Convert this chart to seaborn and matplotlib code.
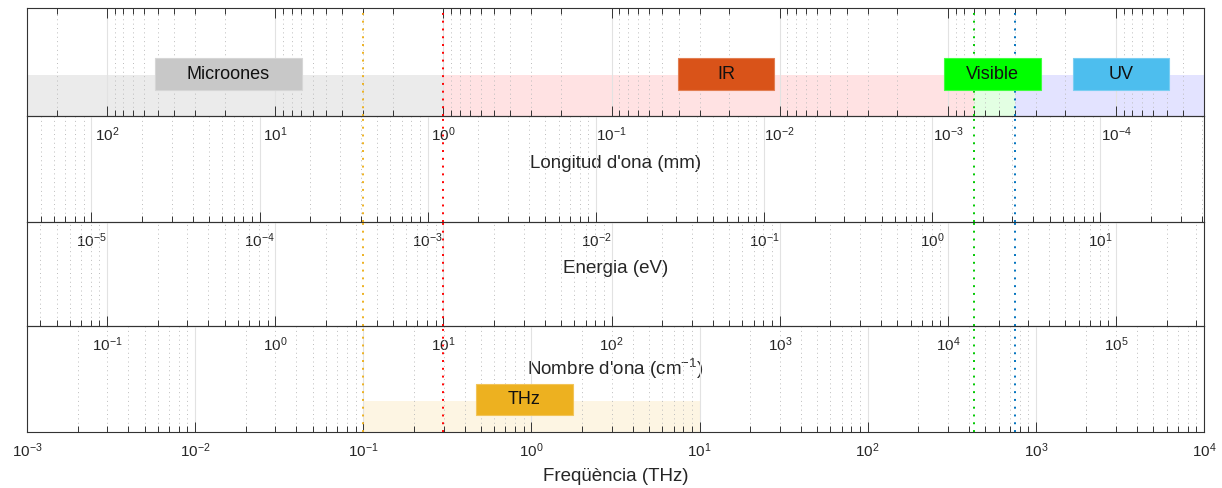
import numpy as np
import matplotlib
matplotlib.use("Agg")
import matplotlib.pyplot as plt
import seaborn as sns

sns.set_theme(style="white")
plt.rcParams['font.family'] = ['Liberation Sans', 'DejaVu Sans']
plt.rcParams['mathtext.default'] = 'regular'

# ---------------- data ----------------
F_MIN, F_MAX = 1e-3, 1e4          # frequency range (THz)
C_MM_THZ = 0.299792458            # f[THz] = C / lambda[mm]
EV_THZ = 241.799                  # f[THz] = E[eV] * EV_THZ
CM_THZ = 0.0299792458             # f[THz] = k[cm^-1] * CM_THZ

band_names = ["Microones", "IR", "Visible", "UV"]
band_start_thz = [1e-3, 0.2998, 428.3, 749.5]
band_end_thz = [0.2998, 428.3, 749.5, 1e4]
band_fill = ["#ebebeb", "#ffe2e3", "#e3ffe3", "#e3e3ff"]
band_box_color = ["#c8c8c8", "#d95319", "#00ff00", "#4dbeee"]
band_label_thz = [0.0158, 14.4, 554.0, 3220.0]

thz_name = "THz"
thz_start, thz_end = 0.1, 10.0
thz_fill = "#fdf5e3"
thz_box_color = "#edb120"
thz_label_thz = 0.91

marker_thz = [0.1, 0.2998, 428.3, 749.5]
marker_colors = ["#edb120", "#ff0000", "#00c800", "#0072bd"]

row_labels = ["Longitud d'ona (mm)", "Energia (eV)",
              "Nombre d'ona (cm$^{-1}$)", "Freqüència (THz)"]
row_to_thz = [lambda v: C_MM_THZ / v,
              lambda v: v * EV_THZ,
              lambda v: v * CM_THZ,
              lambda v: v]

# ---------------- layout ----------------
W, H = 1222, 488
X0, X1 = 27, 1204
rows_px = [(8, 116), (116, 222), (222, 326), (326, 432)]
label_pads = [7.6, 6.9, 1.8, 5.4]
px_per_dec = (X1 - X0) / np.log10(F_MAX / F_MIN)

fig = plt.figure(figsize=(W / 100, H / 100), dpi=100)
fig.patch.set_facecolor("white")

TXT = "#262626"
axes = []
for i, (t, b) in enumerate(rows_px):
    ax = fig.add_axes([X0 / W, 1 - b / H, (X1 - X0) / W, (b - t) / H])
    ax.set_xscale('log')
    ax.set_xlim(F_MIN, F_MAX)
    ax.set_ylim(0, 1)
    ax.patch.set_alpha(0)
    ax.set_axisbelow('line')
    conv = row_to_thz[i]
    majors, labels, minors = [], [], []
    for n in range(-10, 11):
        f = conv(10.0 ** n)
        if F_MIN * 0.999 <= f <= F_MAX * 1.001:
            majors.append(f)
            labels.append(r"$\mathdefault{10^{%d}}$" % n)
        for m in range(2, 10):
            fm = conv(m * 10.0 ** n)
            if F_MIN < fm < F_MAX:
                minors.append(fm)
    ax.set_xticks(majors)
    ax.set_xticklabels(labels)
    ax.set_xticks(minors, minor=True)
    ax.xaxis.set_minor_formatter(matplotlib.ticker.NullFormatter())
    ax.tick_params(axis='x', which='both', direction='in', top=(i == 0),
                   bottom=True, labelbottom=True, color="#333333", width=0.7,
                   labelcolor=TXT, labelsize=11, pad=7)
    ax.tick_params(axis='x', which='major', length=7.5)
    ax.tick_params(axis='x', which='minor', length=4)
    ax.tick_params(axis='y', left=False, right=False, labelleft=False)
    ax.set_yticks([])
    ax.grid(True, which='major', axis='x', color="#e2e2e2", lw=0.8, ls='-')
    ax.grid(True, which='minor', axis='x', color="#bcbcbc", lw=0.7,
            ls=(0, (1, 3.5)))
    for s in ax.spines.values():
        s.set_visible(True)
        s.set_color("#333333")
        s.set_linewidth(0.8)
    ax.set_xlabel(row_labels[i], fontsize=13.5, color=TXT,
                  labelpad=label_pads[i])
    for f, c in zip(marker_thz, marker_colors):
        ax.axvline(f, color=c, ls=(0, (1, 3)), lw=1.4, zorder=3)
    axes.append(ax)


def label_box(ax, fc, name, color, width_px, y0, y1):
    hd = (width_px / 2) / px_per_dec
    ax.axvspan(fc / 10 ** hd, fc * 10 ** hd, ymin=y0, ymax=y1, facecolor=color,
               edgecolor=matplotlib.colors.to_hex(
                   0.75 * np.array(matplotlib.colors.to_rgb(color)) + 0.25),
               lw=0.8, zorder=4)
    ax.text(fc, (y0 + y1) / 2, name, ha='center', va='center', fontsize=13,
            color="#111111", zorder=5, transform=ax.get_xaxis_transform())


ax0 = axes[0]
box_w = [147, 96, 97, 96]
for name, s, e, fill, bc, lf, w in zip(band_names, band_start_thz, band_end_thz,
                                       band_fill, band_box_color,
                                       band_label_thz, box_w):
    ax0.axvspan(s, e, ymin=0, ymax=0.38, facecolor=fill, lw=0, zorder=1)
    label_box(ax0, lf, name, bc, w, 0.24, 0.535)

ax3 = axes[3]
ax3.axvspan(thz_start, thz_end, ymin=0, ymax=0.29, facecolor=thz_fill, lw=0,
            zorder=1)
label_box(ax3, thz_label_thz, thz_name, thz_box_color, 97, 0.16, 0.455)

fig.savefig("out.png", dpi=100, facecolor="white")
